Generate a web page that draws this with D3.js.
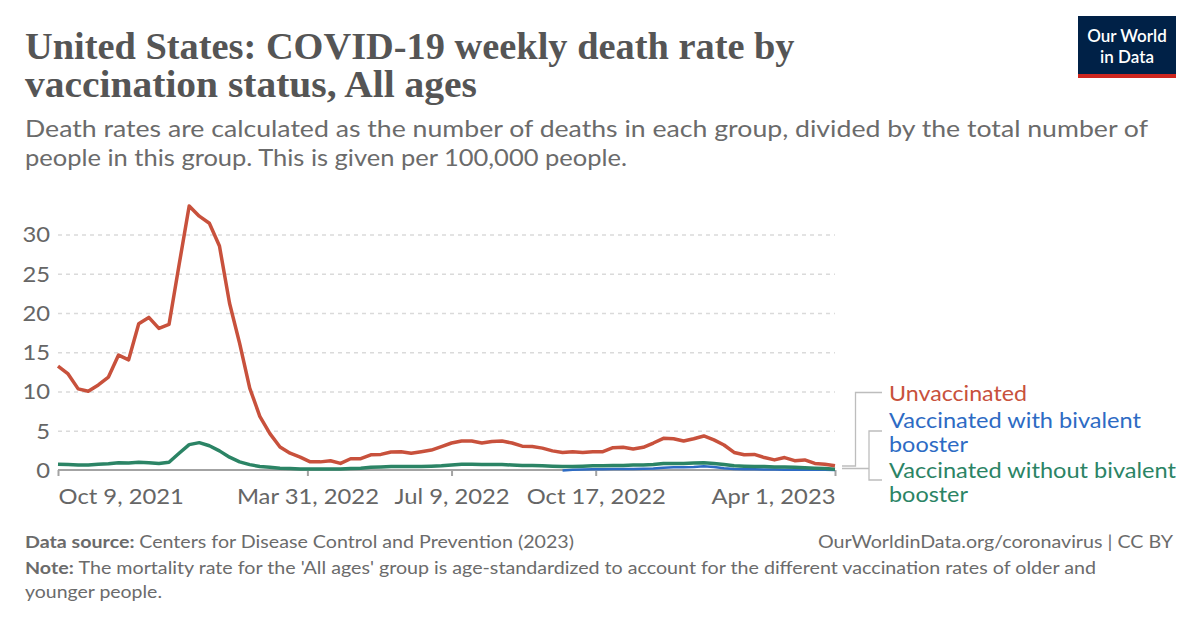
<!DOCTYPE html>
<html>
<head>
<meta charset="utf-8">
<script src="https://cdn.jsdelivr.net/npm/d3@7"></script>
<style>
  html, body { margin: 0; padding: 0; background: #fff; }
  svg { display: block; }
</style>
</head>
<body>
<svg id="chart" width="1200" height="628"></svg>
<script>
// ---------------- DATA ----------------
const startDate = "2021-10-09";
const endDate = "2023-04-01";
const seriesNames = ["Unvaccinated", "Vaccinated with bivalent booster", "Vaccinated without bivalent booster"];
const unvaccinated = [13.3,12.3,10.4,10.1,10.9,11.9,14.7,14.1,18.7,19.5,18.1,18.6,
  26.2,33.7,32.4,31.5,28.6,21.3,16.2,10.5,6.9,4.7,3.0,2.2,
  1.7,1.1,1.1,1.25,0.9,1.5,1.5,2.0,2.05,2.35,2.4,2.2,
  2.4,2.6,3.05,3.5,3.75,3.75,3.5,3.7,3.75,3.5,3.1,3.05,
  2.85,2.5,2.3,2.4,2.3,2.4,2.4,2.9,2.95,2.75,2.95,3.5,
  4.1,4.05,3.75,4.05,4.4,3.9,3.25,2.3,2.0,2.05,1.65,1.35,
  1.65,1.25,1.35,0.9,0.8,0.6];
const withoutBivalent = [0.8,0.75,0.7,0.7,0.8,0.85,1.0,0.95,1.05,1.0,0.9,1.05,
  2.2,3.3,3.55,3.15,2.5,1.7,1.1,0.75,0.5,0.4,0.3,0.25,
  0.2,0.2,0.2,0.2,0.2,0.25,0.3,0.4,0.45,0.5,0.5,0.5,
  0.5,0.55,0.6,0.7,0.8,0.8,0.75,0.75,0.75,0.7,0.65,0.65,
  0.6,0.55,0.5,0.5,0.55,0.6,0.6,0.65,0.65,0.7,0.7,0.75,
  0.9,0.9,0.9,0.95,1.0,0.9,0.75,0.6,0.55,0.5,0.5,0.45,
  0.45,0.4,0.35,0.3,0.25,0.15];
const withBivalent = [null,null,null,null,null,null,null,null,null,null,null,null,
  null,null,null,null,null,null,null,null,null,null,null,null,
  null,null,null,null,null,null,null,null,null,null,null,null,
  null,null,null,null,null,null,null,null,null,null,null,null,
  null,null,0.0,0.08,0.12,0.15,0.15,0.18,0.2,0.2,0.22,0.25,
  0.35,0.4,0.4,0.45,0.55,0.45,0.3,0.2,0.15,0.15,0.12,0.12,
  0.1,0.1,0.1,0.08,0.08,0.06];
const yTicks = [0, 5, 10, 15, 20, 25, 30];
const xTickDates = ["2021-10-09", "2022-03-31", "2022-07-09", "2022-10-17", "2023-04-01"];
const xTickLabels = ["Oct 9, 2021", "Mar 31, 2022", "Jul 9, 2022", "Oct 17, 2022", "Apr 1, 2023"];

const colors = { red: "#c8513c", blue: "#2d6bc4", green: "#2b8465" };

// ---------------- SETUP ----------------
const parse = d3.utcParse("%Y-%m-%d");
const t0 = parse(startDate), t1 = parse(endDate);
const dates = d3.utcDay.range(t0, d3.utcDay.offset(t1, 1), 7);

const svg = d3.select("#chart");
const x = d3.scaleUtc().domain([t0, t1]).range([58, 835]);
const y = d3.scaleLinear().domain([0, 30]).range([470.5, 235]);

const sans = "Lato, 'Noto Sans', sans-serif";
const WIDEN = 1.16;

// stretch a text element horizontally to a target width (or by a factor)
function fit(sel, target) {
  sel.each(function () {
    const w = this.getComputedTextLength();
    const t = target != null ? target : w * WIDEN;
    d3.select(this).attr("textLength", t).attr("lengthAdjust", "spacingAndGlyphs");
  });
}

// ---------------- TITLE ----------------
const titleLines = ["United States: COVID-19 weekly death rate by", "vaccination status, All ages"];
const titleG = svg.append("g");
const t1El = titleG.append("text").attr("x", 25).attr("y", 59)
  .attr("font-family", "'Liberation Serif', 'DejaVu Serif', serif").attr("font-weight", 700)
  .attr("font-size", 38).attr("fill", "#555").text(titleLines[0]);
const w = t1El.node().getComputedTextLength();
const fs = 38 * 770 / w;
t1El.attr("font-size", fs);
const t2El = titleG.append("text").attr("x", 25).attr("y", 97)
  .attr("font-family", "'Liberation Serif', 'DejaVu Serif', serif").attr("font-weight", 700)
  .attr("font-size", fs).attr("fill", "#555").text(titleLines[1]);
fit(t2El, 452);

// ---------------- SUBTITLE ----------------
const subLines = ["Death rates are calculated as the number of deaths in each group, divided by the total number of",
  "people in this group. This is given per 100,000 people."];
const subTargets = [1123, 602];
subLines.forEach((s, i) => {
  const el = svg.append("text").attr("x", 25).attr("y", 137 + i * 29)
    .attr("font-family", sans).attr("font-size", 23).attr("fill", "#6b6b6b").text(s);
  fit(el, subTargets[i]);
});

// ---------------- LOGO ----------------
svg.append("rect").attr("x", 1078).attr("y", 16).attr("width", 98).attr("height", 58).attr("fill", "#002147");
svg.append("rect").attr("x", 1078).attr("y", 74).attr("width", 98).attr("height", 4).attr("fill", "#ce261e");
svg.append("text").attr("x", 1127).attr("y", 42).attr("text-anchor", "middle")
  .attr("font-family", sans).attr("font-weight", 600).attr("font-size", 17).attr("fill", "#fff").text("Our World");
svg.append("text").attr("x", 1127).attr("y", 63).attr("text-anchor", "middle")
  .attr("font-family", sans).attr("font-weight", 600).attr("font-size", 17).attr("fill", "#fff").text("in Data");

// ---------------- GRID + Y AXIS ----------------
const grid = svg.append("g");
yTicks.filter(d => d > 0).forEach(d => {
  grid.append("line").attr("x1", 58).attr("x2", 835).attr("y1", y(d)).attr("y2", y(d))
    .attr("stroke", "#dadada").attr("stroke-width", 1.5).attr("stroke-dasharray", "4,4");
});
const yAxis = d3.axisLeft(y).tickValues(yTicks).tickSize(0).tickPadding(0);
const yg = svg.append("g").attr("transform", "translate(51,0)").call(yAxis);
yg.select(".domain").remove();
yg.selectAll("text").attr("font-family", sans).attr("font-size", 20.5).attr("fill", "#666")
  .attr("dy", "0.34em").attr("x", -1);
fit(yg.selectAll("text"));

// ---------------- X AXIS ----------------
const xg = svg.append("g").attr("transform", "translate(0,470)");
xg.append("line").attr("x1", 58).attr("x2", 835).attr("y1", 0).attr("y2", 0)
  .attr("stroke", "#a3a3a3").attr("stroke-width", 2);
const xAxis = d3.axisBottom(x).tickValues(xTickDates.map(parse)).tickSize(6)
  .tickFormat((d, i) => xTickLabels[i]).tickPadding(10);
const xa = svg.append("g").attr("transform", "translate(0,470)").call(xAxis);
xa.select(".domain").remove();
xa.selectAll(".tick line").attr("stroke", "#a3a3a3").attr("stroke-width", 2);
xa.selectAll("text").attr("font-family", sans).attr("font-size", 20.5).attr("fill", "#666")
  .attr("dy", "0.9em")
  .attr("text-anchor", (d, i) => i === 0 ? "start" : (i === xTickLabels.length - 1 ? "end" : "middle"));
fit(xa.selectAll("text"));

// ---------------- LINES ----------------
const line = d3.line().defined(d => d.v != null).x(d => x(d.t)).y(d => y(d.v));
const mk = arr => arr.map((v, i) => ({ t: dates[i], v: v }));
svg.append("path").datum(mk(withBivalent)).attr("d", line).attr("fill", "none")
  .attr("stroke", colors.blue).attr("stroke-width", 2.5).attr("stroke-linejoin", "round");
svg.append("path").datum(mk(withoutBivalent)).attr("d", line).attr("fill", "none")
  .attr("stroke", colors.green).attr("stroke-width", 3.5).attr("stroke-linejoin", "round");
svg.append("path").datum(mk(unvaccinated)).attr("d", line).attr("fill", "none")
  .attr("stroke", colors.red).attr("stroke-width", 3.5).attr("stroke-linejoin", "round");

// ---------------- LEGEND ----------------
const leg = svg.append("g").attr("fill", "none").attr("stroke", "#bdbdbd").attr("stroke-width", 1.3);
leg.append("path").attr("d", "M842,466 H855.5 V392.5 H882");
leg.append("path").attr("d", "M842,468.5 H869 M882,431 H869 V480 H882");
const legItems = [
  { lines: ["Unvaccinated"], targets: [138], color: colors.red, y: 401 },
  { lines: ["Vaccinated with bivalent", "booster"], targets: [252, 79], color: colors.blue, y: 428 },
  { lines: ["Vaccinated without bivalent", "booster"], targets: [287, 79], color: colors.green, y: 478 }
];
legItems.forEach(it => {
  it.lines.forEach((l, j) => {
    const el = svg.append("text").attr("x", 889).attr("y", it.y + j * 23.5)
      .attr("font-family", sans).attr("font-size", 21).attr("fill", it.color).text(l);
    fit(el, it.targets[j]);
  });
});

// ---------------- FOOTER ----------------
const f1 = svg.append("text").attr("x", 25).attr("y", 548).attr("font-family", sans)
  .attr("font-size", 17).attr("fill", "#6b6b6b");
f1.append("tspan").attr("font-weight", 700).text("Data source: ");
f1.append("tspan").text("Centers for Disease Control and Prevention (2023)");
fit(f1, 549);
const fr = svg.append("text").attr("x", 1173).attr("y", 548).attr("text-anchor", "end").attr("font-family", sans)
  .attr("font-size", 17).attr("fill", "#6b6b6b").text("OurWorldinData.org/coronavirus | CC BY");
fit(fr, 355);
const f2 = svg.append("text").attr("x", 25).attr("y", 574).attr("font-family", sans)
  .attr("font-size", 17).attr("fill", "#6b6b6b");
f2.append("tspan").attr("font-weight", 700).text("Note: ");
f2.append("tspan").text("The mortality rate for the 'All ages' group is age-standardized to account for the different vaccination rates of older and");
fit(f2, 1071);
const f3 = svg.append("text").attr("x", 25).attr("y", 598).attr("font-family", sans)
  .attr("font-size", 17).attr("fill", "#6b6b6b").text("younger people.");
fit(f3, 137);
</script>
</body>
</html>
